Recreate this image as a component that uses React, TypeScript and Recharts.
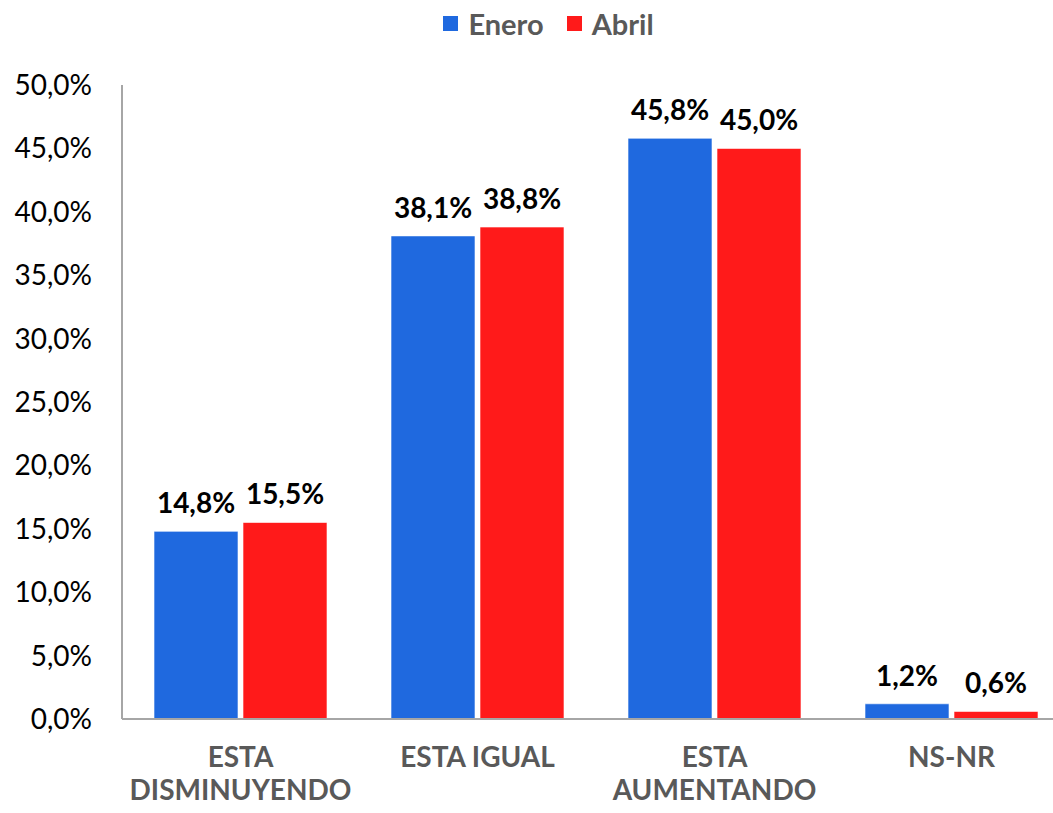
import React from 'react';
import { BarChart, Bar, XAxis, YAxis, LabelList } from 'recharts';

// Categories and series values (percent)
const categories = ['ESTA DISMINUYENDO', 'ESTA IGUAL', 'ESTA AUMENTANDO', 'NS-NR'];
const categoryLines = [['ESTA', 'DISMINUYENDO'], ['ESTA IGUAL'], ['ESTA', 'AUMENTANDO'], ['NS-NR']];
const enero = [14.8, 38.1, 45.8, 1.2];
const abril = [15.5, 38.8, 45.0, 0.6];
const yTicks = [0, 5, 10, 15, 20, 25, 30, 35, 40, 45, 50];

const series = [
  { key: 'enero', name: 'Enero', color: '#1F69DF' },
  { key: 'abril', name: 'Abril', color: '#FF1A1A' }
];

const data = categories.map((c, i) => ({
  name: c,
  enero: enero[i],
  abril: abril[i]
}));

const FONT = 'Lato, "Open Sans", sans-serif';

const fmt = (v: number) => v.toFixed(1).replace('.', ',') + '%';

const CategoryTick: React.FC<any> = ({ x, y, payload, index }) => {
  const lines = categoryLines[index] || [payload.value];
  return (
    <text x={x} y={y} textAnchor="middle" fontFamily={FONT} fontWeight={700} fontSize={28} fill="#595959">
      {lines.map((l, i) => (
        <tspan key={i} x={x} dy={i === 0 ? 40 : 33}>{l}</tspan>
      ))}
    </text>
  );
};

const App: React.FC = () => {
  return (
    <div style={{ position: 'fixed', left: 0, top: 0, width: 1053, height: 813, overflow: 'hidden', background: '#fff', fontFamily: FONT }}>
      <div style={{ position: 'absolute', top: 6, left: 22, width: 1053, display: 'flex', justifyContent: 'center', gap: 23 }}>
        {series.map(s => (
          <div key={s.key} style={{ display: 'flex', alignItems: 'center', fontWeight: 700, fontSize: 29, color: '#595959' }}>
            <span style={{ display: 'inline-block', width: 15, height: 15, background: s.color, marginRight: 10 }} />
            {s.name}
          </div>
        ))}
      </div>
      <BarChart
        width={1080}
        height={813}
        data={data}
        margin={{ top: 85, right: 10, bottom: 0, left: 0 }}
        barCategoryGap={32}
        barGap={5}
      >
        <XAxis
          dataKey="name"
          axisLine={{ stroke: '#A6A6A6', strokeWidth: 2 }}
          tickLine={false}
          tick={<CategoryTick />}
          interval={0}
          height={94}
        />
        <YAxis
          width={122}
          domain={[0, 50]}
          ticks={yTicks}
          tickFormatter={fmt}
          axisLine={{ stroke: '#A6A6A6', strokeWidth: 2 }}
          tickLine={false}
          tickSize={0}
          tickMargin={30}
          tick={{ fontFamily: FONT, fontSize: 28, fill: '#000' }}
          interval={0}
        />
        {series.map(s => (
          <Bar key={s.key} dataKey={s.key} name={s.name} fill={s.color} stroke="#ffffff" strokeOpacity={0.6} isAnimationActive={false}>
            <LabelList
              dataKey={s.key}
              position="top"
              offset={18}
              formatter={(v: any) => fmt(Number(v))}
              style={{ fontFamily: FONT, fontWeight: 700, fontSize: 28, fill: '#000' }}
            />
          </Bar>
        ))}
      </BarChart>
    </div>
  );
};

export default App;
